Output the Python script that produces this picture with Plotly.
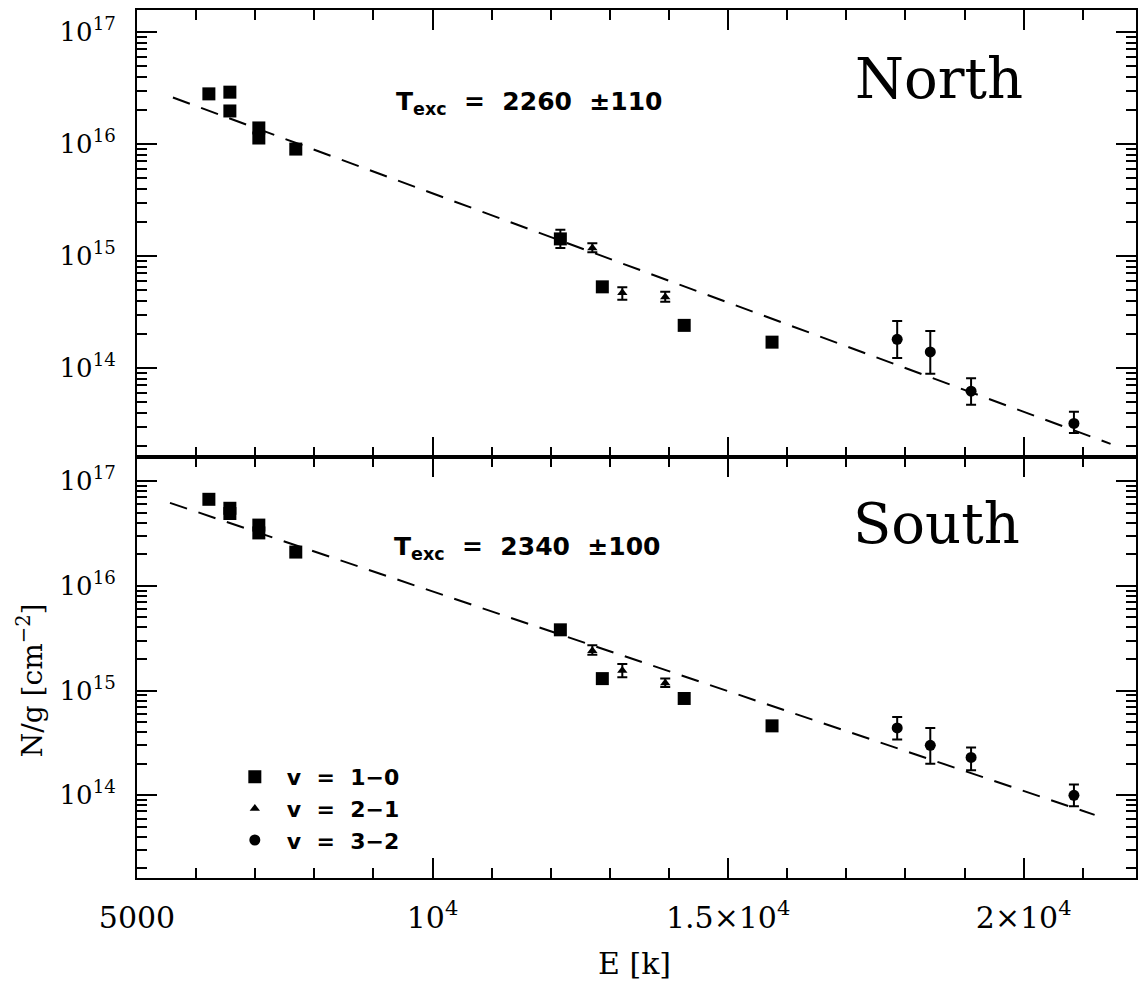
import plotly.graph_objects as go

# ---------------- data ----------------
# v = 1-0 lines (squares)
E_v10 = [6216, 6571, 6571, 7061, 7061, 7686, 12162, 12872, 14257, 15743]
north_v10 = [2.8e16, 2.9e16, 1.97e16, 1.39e16, 1.13e16, 9.0e15, 1.42e15, 5.3e14, 2.4e14, 1.7e14]
north_v10_hi = [None, None, None, None, None, None, 1.71e15, None, None, None]
north_v10_lo = [None, None, None, None, None, None, 1.18e15, None, None, None]
south_v10 = [6.7e16, 5.5e16, 4.9e16, 3.8e16, 3.2e16, 2.1e16, 3.8e15, 1.3e15, 8.4e14, 4.6e14]
south_v10_hi = [None, None, None, None, None, None, 4.2e15, None, None, None]
south_v10_lo = [None, None, None, None, None, None, 3.4e15, None, None, None]

# v = 2-1 lines (triangles)
E_v21 = [12703, 13210, 13936]
north_v21 = [1.18e15, 4.7e14, 4.3e14]
north_v21_hi = [1.30e15, 5.25e14, 4.8e14]
north_v21_lo = [1.08e15, 4.07e14, 3.9e14]
south_v21 = [2.4e15, 1.55e15, 1.18e15]
south_v21_hi = [2.7e15, 1.79e15, 1.30e15]
south_v21_lo = [2.2e15, 1.34e15, 1.08e15]

# v = 3-2 lines (circles)
E_v32 = [17860, 18420, 19110, 20850]
north_v32 = [1.8e14, 1.39e14, 6.2e13, 3.2e13]
north_v32_hi = [2.63e14, 2.14e14, 8.1e13, 4.07e13]
north_v32_lo = [1.23e14, 8.9e13, 4.7e13, 2.63e13]
south_v32 = [4.4e14, 3.0e14, 2.3e14, 1.0e14]
south_v32_hi = [5.6e14, 4.4e14, 2.86e14, 1.27e14]
south_v32_lo = [3.4e14, 2.0e14, 1.73e14, 7.85e13]

# fitted Boltzmann lines (end points)
north_fit_E = [5608, 21470]
north_fit_N = [2.6e16, 2.1e13]
south_fit_E = [5558, 21200]
south_fit_N = [6.2e16, 6.5e13]

legend_names = ["v  =  1\u22120", "v  =  2\u22121", "v  =  3\u22122"]
texc_north = "T<sub>exc</sub>  =  2260  \u00b1110"
texc_south = "T<sub>exc</sub>  =  2340  \u00b1100"
x_tickvals = [5000, 10000, 15000, 20000]
x_ticktext = ["5000", "10<sup>4</sup>", "1.5\u00d710<sup>4</sup>", "2\u00d710<sup>4</sup>"]
y_tickvals = [1e14, 1e15, 1e16, 1e17]
y_ticktext = ["10<sup>14</sup>", "10<sup>15</sup>", "10<sup>16</sup>", "10<sup>17</sup>"]

# ---------------- layout helpers ----------------
W, H = 1140, 991
L, R, T, B = 137, 1138, 10, 878
MID = 457


def px(x):
    return (x - L) / (R - L)


def py(y):
    return (B - y) / (B - T)


def nb(s):
    return s.replace("  ", "\u00a0\u00a0")


def errs(val, hi, lo):
    up = [None if h is None else h - v for v, h in zip(val, hi)]
    dn = [None if l is None else v - l for v, l in zip(val, lo)]
    return dict(type="data", symmetric=False, array=up, arrayminus=dn,
                color="black", thickness=2, width=5)


fig = go.Figure()

panels = [
    ("x", "y", north_v10, north_v10_hi, north_v10_lo, north_v21, north_v21_hi, north_v21_lo,
     north_v32, north_v32_hi, north_v32_lo, north_fit_E, north_fit_N, False),
    ("x2", "y2", south_v10, south_v10_hi, south_v10_lo, south_v21, south_v21_hi, south_v21_lo,
     south_v32, south_v32_hi, south_v32_lo, south_fit_E, south_fit_N, True),
]

for (xa, ya, v10, v10h, v10l, v21, v21h, v21l, v32, v32h, v32l, fE, fN, show) in panels:
    fig.add_trace(go.Scatter(x=fE, y=fN, mode="lines", xaxis=xa, yaxis=ya, showlegend=False,
                             line=dict(color="black", width=2, dash="18px,12px")))
    fig.add_trace(go.Scatter(x=E_v10, y=v10, mode="markers", xaxis=xa, yaxis=ya,
                             name=nb(legend_names[0]), showlegend=show,
                             error_y=errs(v10, v10h, v10l),
                             marker=dict(symbol="square", size=13, color="black")))
    fig.add_trace(go.Scatter(x=E_v21, y=v21, mode="markers", xaxis=xa, yaxis=ya,
                             name=nb(legend_names[1]), showlegend=show,
                             error_y=errs(v21, v21h, v21l),
                             marker=dict(symbol="triangle-up", size=9, color="black")))
    fig.add_trace(go.Scatter(x=E_v32, y=v32, mode="markers", xaxis=xa, yaxis=ya,
                             name=nb(legend_names[2]), showlegend=show,
                             error_y=errs(v32, v32h, v32l),
                             marker=dict(symbol="circle", size=11, color="black")))

serif = "DejaVu Serif"
xcommon = dict(range=[5000, 21900], showgrid=False, zeroline=False, showline=True,
               linecolor="black", linewidth=2, mirror="allticks", ticks="inside",
               ticklen=20, tickwidth=2, tickcolor="black",
               tickmode="array", tickvals=x_tickvals, ticktext=x_ticktext,
               minor=dict(ticks="inside", ticklen=10, tickwidth=1.5, tickcolor="black",
                          dtick=1000, tick0=5000, showgrid=False))
minor_y = [m * 10 ** e for e in range(13, 18) for m in range(2, 10)]
ycommon = dict(type="log", showgrid=False, zeroline=False, showline=True,
               linecolor="black", linewidth=2, mirror="allticks", ticks="inside",
               ticklen=20, tickwidth=2, tickcolor="black",
               tickmode="array", tickvals=y_tickvals, ticktext=y_ticktext,
               tickfont=dict(family=serif, size=26, color="black"),
               ticklabelstandoff=14,
               minor=dict(ticks="inside", ticklen=10, tickwidth=1.5, tickcolor="black",
                          tickmode="array", tickvals=minor_y, showgrid=False))

fig.update_layout(
    width=W, height=H,
    margin=dict(l=L, r=W - R, t=T, b=H - B),
    paper_bgcolor="white", plot_bgcolor="white",
    xaxis=dict(xcommon, anchor="y", matches="x2", showticklabels=False),
    xaxis2=dict(xcommon, anchor="y2", showticklabels=True,
                tickfont=dict(family=serif, size=30, color="black"),
                ticklabelstandoff=12),
    yaxis=dict(ycommon, domain=[py(MID), 1], anchor="x", range=[13.205, 17.196]),
    yaxis2=dict(ycommon, domain=[0, py(MID)], anchor="x2", range=[13.21, 17.23]),
    legend=dict(x=px(223), y=py(756), xanchor="left", yanchor="top",
                bgcolor="rgba(0,0,0,0)", itemwidth=54,
                font=dict(family="DejaVu Sans", size=22, color="black", weight="bold")),
    showlegend=True,
)

annots = [
    dict(text=nb(texc_north), x=px(395), y=py(103), xanchor="left", yanchor="middle",
         font=dict(family="DejaVu Sans", size=25, color="black", weight="bold")),
    dict(text=nb(texc_south), x=px(393), y=py(548), xanchor="left", yanchor="middle",
         font=dict(family="DejaVu Sans", size=25, color="black", weight="bold")),
    dict(text="North", x=px(941), y=py(78), xanchor="center", yanchor="middle",
         font=dict(family=serif, size=56, color="black")),
    dict(text="South", x=px(938), y=py(523), xanchor="center", yanchor="middle",
         font=dict(family=serif, size=56, color="black")),
    dict(text="N/g [cm<sup>\u22122</sup>]", x=px(30), y=py(680), xanchor="center",
         yanchor="middle", textangle=-90,
         font=dict(family=serif, size=28, color="black")),
    dict(text="E [k]", x=px(635), y=py(963), xanchor="center", yanchor="middle",
         font=dict(family=serif, size=30, color="black")),
]
for a in annots:
    a.update(xref="paper", yref="paper", showarrow=False)
fig.update_layout(annotations=annots)

fig.write_html("out.html")
